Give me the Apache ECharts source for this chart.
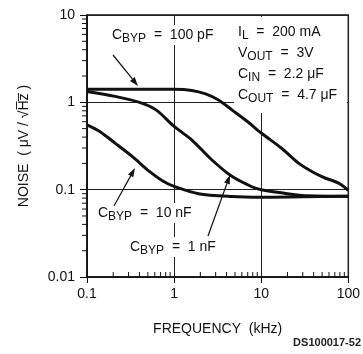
<!DOCTYPE html>
<html>
<head>
<meta charset="utf-8">
<script src="https://cdn.jsdelivr.net/npm/echarts@6/dist/echarts.min.js"></script>
<style>
  html, body { margin: 0; padding: 0; background: #fff; }
  #chart { width: 363px; height: 354px; }
</style>
</head>
<body>
<div id="chart"></div>
<script>
// curve data (frequency in kHz, noise in uV/rtHz)
const curve100pF = [
  [0.1, 1.41], [0.2, 1.41], [0.5, 1.41], [1, 1.41], [1.6, 1.37], [2.3, 1.25],
  [3.2, 1.07], [4.6, 0.82], [7, 0.6], [10, 0.445], [17, 0.3], [27, 0.2],
  [41, 0.155], [54, 0.136], [70, 0.124], [83, 0.114], [100, 0.098]
];
const curve1nF = [
  [0.1, 1.33], [0.21, 1.17], [0.4, 1.0], [0.62, 0.82], [1, 0.53], [1.6, 0.37],
  [2.7, 0.22], [4.6, 0.142], [7.8, 0.108], [10, 0.1], [17, 0.092], [35, 0.085],
  [100, 0.084]
];
const curve10nF = [
  [0.1, 0.553], [0.14, 0.464], [0.21, 0.341], [0.33, 0.24], [0.52, 0.162],
  [0.75, 0.125], [1, 0.109], [1.9, 0.09], [4.6, 0.0835], [10, 0.082],
  [30, 0.083], [100, 0.084]
];
const minorX = [0.2, 0.3, 0.4, 0.5, 0.6, 0.7, 0.8, 0.9, 2, 3, 4, 5, 6, 7, 8, 9,
  20, 30, 40, 50, 60, 70, 80, 90];
const minorY = [0.02, 0.03, 0.04, 0.05, 0.06, 0.07, 0.08, 0.09,
  0.2, 0.3, 0.4, 0.5, 0.6, 0.7, 0.8, 0.9, 2, 3, 4, 5, 6, 7, 8, 9];

const FONT = "Liberation Sans";
const INK = "#111";

const rich = {
  m: { fontSize: 14, lineHeight: 20, fontFamily: FONT, fill: INK },
  s: { fontSize: 12, lineHeight: 12, fontFamily: FONT, fill: INK, verticalAlign: "bottom" }
};

function label(x, y, text) {
  return {
    type: "text", x: x, y: y, z: 1,
    style: { text: text, rich: rich, verticalAlign: "middle", backgroundColor: "#fff", padding: [0, 2] }
  };
}

function arrow(x1, y1, x2, y2) {
  const a = Math.atan2(y2 - y1, x2 - x1);
  const len = 9, w = 3;
  const bx = x2 - len * Math.cos(a), by = y2 - len * Math.sin(a);
  const nx = -Math.sin(a) * w, ny = Math.cos(a) * w;
  return [
    { type: "line", z: 3, shape: { x1: x1, y1: y1, x2: bx, y2: by }, style: { stroke: INK, lineWidth: 1.2 } },
    { type: "polygon", z: 3, shape: { points: [[x2, y2], [bx + nx, by + ny], [bx - nx, by - ny]] }, style: { fill: INK } }
  ];
}

function curve(data) {
  return {
    type: "line", data: data, smooth: 0.3, symbol: "none", z: 2,
    lineStyle: { color: INK, width: 3 }
  };
}

function tickLabel(v) {
  return String(+v.toPrecision(3));
}

const chart = echarts.init(document.getElementById("chart"));
chart.setOption({
  animation: false,
  grid: { left: 87, right: 13, top: 15, bottom: 77, show: true, borderColor: INK, borderWidth: 1.5 },
  xAxis: {
    type: "log", logBase: 10, min: 0.1, max: 100,
    name: "FREQUENCY  (kHz)", nameLocation: "middle", nameGap: 45,
    nameTextStyle: { fontFamily: FONT, fontSize: 14, color: INK },
    axisLine: { lineStyle: { color: INK, width: 1.5 } },
    axisTick: { show: true, inside: false, length: 6, lineStyle: { color: INK } },
    axisLabel: { fontFamily: FONT, fontSize: 14, color: INK, margin: 10, formatter: tickLabel },
    splitLine: { show: true, lineStyle: { color: "#222", width: 1 } },
    minorTick: { show: false }
  },
  yAxis: {
    type: "log", logBase: 10, min: 0.01, max: 10,
    name: "NOISE  ( μV / √H̅z̅ )", nameLocation: "middle", nameGap: 56,
    nameTextStyle: { fontFamily: FONT, fontSize: 14, color: INK },
    axisLine: { lineStyle: { color: INK, width: 1.5 } },
    axisTick: { show: true, inside: false, length: 7, lineStyle: { color: INK } },
    axisLabel: { fontFamily: FONT, fontSize: 14, color: INK, margin: 12, formatter: tickLabel },
    splitLine: { show: true, lineStyle: { color: "#222", width: 1 } }
  },
  series: [
    curve(curve100pF),
    curve(curve1nF),
    curve(curve10nF),
    {
      type: "custom", clip: false, silent: true, z: 3,
      data: minorX.map(v => [v, 0.01]),
      renderItem: function (params, api) {
        const p = api.coord([api.value(0), api.value(1)]);
        return { type: "line", shape: { x1: p[0], y1: p[1], x2: p[0], y2: p[1] - 5 }, style: { stroke: INK, lineWidth: 1 } };
      }
    },
    {
      type: "custom", clip: false, silent: true, z: 3,
      data: minorY.map(v => [0.1, v]),
      renderItem: function (params, api) {
        const p = api.coord([api.value(0), api.value(1)]);
        return { type: "line", shape: { x1: p[0], y1: p[1], x2: p[0] - 5, y2: p[1] }, style: { stroke: INK, lineWidth: 1 } };
      }
    }
  ],
  graphic: [
    { type: "rect", z: 1, shape: { x: 234, y: 17, width: 113, height: 96 }, style: { fill: "#fff" } },
    label(236, 32, "{m|I}{s|L}{m|  =  200 mA}"),
    label(236, 53, "{m|V}{s|OUT}{m|  =  3V}"),
    label(236, 74, "{m|C}{s|IN}{m|  =  2.2 μF}"),
    label(236, 95, "{m|C}{s|OUT}{m|  =  4.7 μF}"),
    label(110, 35, "{m|C}{s|BYP}{m|  =  100 pF}"),
    label(96, 213, "{m|C}{s|BYP}{m|  =  10 nF}"),
    label(128, 247, "{m|C}{s|BYP}{m|  =  1 nF}"),
    ...arrow(113, 55, 138, 86),
    ...arrow(114, 206, 135, 168),
    ...arrow(208, 236, 230, 175),
    {
      type: "text", right: 2, top: 337,
      style: { text: "DS100017-52", font: "bold 11px Liberation Sans", fill: "#222" }
    }
  ]
});
</script>
</body>
</html>
